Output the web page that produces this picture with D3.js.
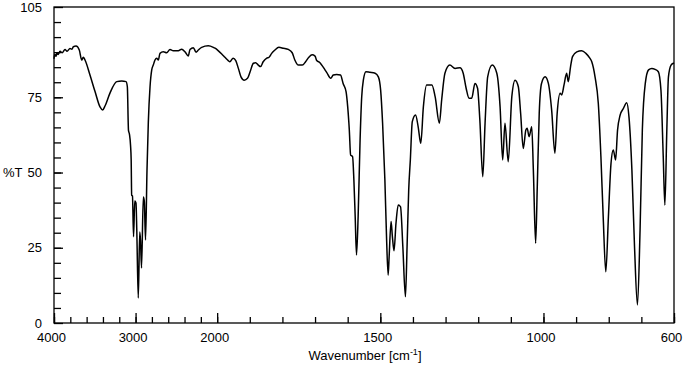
<!DOCTYPE html>
<html>
<head>
<meta charset="utf-8">
<script src="https://cdn.jsdelivr.net/npm/d3@7"></script>
<style>
  body { margin: 0; background: #fff; }
  svg { display: block; font-family: "Liberation Sans", Arial, sans-serif; }
</style>
</head>
<body>
<svg id="chart" width="683" height="376"></svg>
<script>
'use strict';

// spectrum: wavenumber (cm-1) and %T
const wavenumbers = [
  4000, 3990, 3975, 3963, 3950, 3926, 3900, 3865, 3840, 3804, 3780, 3763, 3730, 3690, 3660, 3641,
  3620, 3559, 3497, 3436, 3403, 3375,
  3314, 3231, 3170, 3117, 3101, 3087, 3075, 3062, 3054, 3048, 3038, 3025, 3010, 2995, 2985, 2967,
  2949, 2940, 2927, 2905, 2893, 2878, 2860, 2844, 2823, 2802, 2783, 2762, 2741, 2721, 2701, 2660,
  2619, 2578, 2538, 2476, 2435, 2394, 2354, 2333, 2292, 2259, 2231, 2190, 2109, 2047, 2026, 1997,
  1986, 1976, 1966, 1961, 1951, 1943, 1935, 1927, 1917, 1907, 1899, 1889, 1882, 1874, 1867, 1859,
  1848, 1841, 1833, 1823, 1811, 1797, 1782, 1770, 1762, 1751, 1739, 1729, 1719, 1709, 1700, 1695,
  1685, 1675, 1664, 1652, 1644, 1634, 1622, 1614, 1605, 1600, 1595, 1591, 1585, 1581, 1577, 1573,
  1568, 1562, 1557, 1552, 1544, 1532, 1516, 1506, 1499, 1493, 1486, 1481, 1476, 1473, 1467, 1463,
  1458, 1452, 1445, 1438, 1431, 1423, 1418, 1413, 1408, 1402, 1392, 1384, 1376, 1368, 1358, 1342,
  1332, 1319, 1312, 1302, 1287, 1271, 1256, 1246, 1237, 1228, 1220, 1210, 1202, 1195, 1186, 1179,
  1171, 1157, 1143, 1133, 1125, 1118, 1108, 1097, 1087, 1077, 1070, 1062, 1054, 1050, 1044, 1036,
  1031, 1024, 1019, 1013, 1006, 995, 985, 975, 965, 958, 949, 944, 937, 929, 924, 917,
  911, 898, 883, 870, 858, 852, 842, 832, 824, 817, 809, 801, 793, 786, 779, 773,
  765, 755, 745, 738, 729, 721, 712, 704, 697, 688, 678, 668, 658, 648, 640, 633,
  628, 622, 617, 609, 602, 600
];
const transmittance = [
  87.8, 89.3, 88.6, 89.9, 89.2, 90.3, 89.8, 90.9, 90.3, 91.2, 91.0, 91.8, 92.0, 90.7, 87.4, 88.3,
  87.4, 82.4, 76.9, 71.8, 70.8, 72.1,
  76.4, 80.2, 80.4, 80.2, 78.5, 64.0, 62.7, 59.1, 54.2, 42.5, 42.2, 28.7, 40.5, 39.9, 30.6, 8.3,
  30.2, 27.6, 18.3, 41.9, 40.5, 27.6, 50.8, 66.5, 78.4, 84.1, 85.7, 87.4, 88.0, 87.4, 89.6, 90.1,
  89.8, 90.9, 90.5, 90.5, 91.0, 90.1, 88.7, 90.9, 91.5, 90.0, 90.7, 91.6, 92.1, 91.6, 91.3, 90.5,
  89.4, 88.3, 87.2, 86.8, 88.0, 87.2, 84.6, 81.8, 80.7, 81.3, 83.5, 86.3, 86.5, 85.7, 85.2, 86.8,
  88.0, 88.3, 89.6, 90.7, 91.6, 91.3, 90.9, 89.8, 87.4, 85.7, 85.7, 86.8, 88.3, 89.1, 88.7, 87.2,
  86.5, 85.0, 83.2, 81.3, 82.4, 82.6, 82.4, 79.6, 76.9, 71.9, 64.1, 55.8, 55.3, 47.5, 35.3, 22.6,
  35.3, 60.8, 75.2, 80.7, 83.5, 83.3, 83.0, 81.8, 77.4, 66.4, 47.5, 28.7, 15.9, 22.0, 33.7, 28.7,
  24.0, 33.1, 39.2, 38.6, 25.4, 8.7, 25.4, 44.2, 54.2, 66.9, 69.1, 65.2, 59.7, 71.9, 79.1, 79.1,
  75.2, 66.4, 74.1, 83.0, 85.7, 84.6, 84.8, 83.0, 78.0, 74.7, 74.7, 79.6, 78.0, 67.5, 48.6, 66.4,
  81.8, 85.7, 83.0, 71.9, 54.2, 66.4, 53.6, 75.2, 80.7, 78.5, 69.7, 58.0, 64.1, 64.7, 61.9, 65.2,
  50.8, 26.5, 45.3, 69.7, 79.6, 81.8, 79.6, 70.8, 56.4, 69.7, 76.3, 75.8, 79.1, 83.0, 80.2, 85.2,
  88.5, 90.1, 90.5, 89.6, 88.0, 86.8, 81.8, 73.0, 55.3, 35.3, 17.0, 35.3, 53.1, 57.5, 54.2, 64.1,
  69.1, 71.3, 73.2, 68.5, 50.8, 25.4, 6.0, 30.9, 64.1, 79.6, 84.1, 84.6, 84.3, 83.5, 77.4, 55.3,
  39.2, 64.1, 81.8, 85.7, 86.3, 86.4
];

const xTickLabels = [4000, 3000, 2000, 1500, 1000, 600];
const yTickLabels = [0, 25, 50, 75, 105];

const plotLeft = 54;
const plotRight = 674;
const plotTop = 7;
const plotBottom = 323;

// wavenumbers below 2000 are drawn 4x wider than above
const breakX = plotLeft + (plotRight - plotLeft) * 2000 / (2000 + 1400 * 4);
const x = d3.scaleLinear().domain([4000, 2000, 600]).range([plotLeft, breakX, plotRight]);
const y = d3.scaleLinear().domain([0, 105]).range([plotBottom, plotTop]);

const svg = d3.select('#chart');

const xMinor = d3.range(4000, 2000, -200).concat(d3.range(2000, 599, -100));
const yMinor = d3.range(5, 101, 5);

// minor ticks
svg.append('g')
  .attr('transform', 'translate(0,' + plotBottom + ')')
  .call(d3.axisBottom(x).tickValues(xMinor).tickSize(-6).tickFormat(''))
  .call(g => g.select('.domain').remove());

svg.append('g')
  .attr('transform', 'translate(' + plotLeft + ',0)')
  .call(d3.axisLeft(y).tickValues(yMinor).tickSize(-7).tickFormat(''))
  .call(g => g.select('.domain').remove());

// labelled ticks
const xAxis = svg.append('g')
  .attr('transform', 'translate(0,' + plotBottom + ')')
  .call(d3.axisBottom(x).tickValues(xTickLabels).tickSize(-10).tickPadding(10)
    .tickFormat(d3.format('d')));
xAxis.select('.domain').remove();
xAxis.selectAll('text').attr('dx', -3);

const yAxis = svg.append('g')
  .attr('transform', 'translate(' + plotLeft + ',0)')
  .call(d3.axisLeft(y).tickValues(yTickLabels).tickSize(-9).tickPadding(12)
    .tickFormat(d3.format('d')));
yAxis.select('.domain').remove();

svg.selectAll('.tick line').attr('stroke', '#000').attr('stroke-width', 1.3);
svg.selectAll('.tick text')
  .attr('fill', '#000')
  .style('font-size', '13px')
  .style('font-family', '"Liberation Sans", Arial, sans-serif');

// frame
svg.append('rect')
  .attr('x', plotLeft)
  .attr('y', plotTop)
  .attr('width', plotRight - plotLeft)
  .attr('height', plotBottom - plotTop)
  .attr('fill', 'none')
  .attr('stroke', '#000')
  .attr('stroke-width', 1.3);

// spectrum
const points = wavenumbers.map((w, i) => [w, transmittance[i]]);
const line = d3.line()
  .x(d => x(d[0]))
  .y(d => y(d[1]))
  .curve(d3.curveMonotoneX);

svg.append('path')
  .datum(points)
  .attr('d', line)
  .attr('fill', 'none')
  .attr('stroke', '#000')
  .attr('stroke-width', 1.5)
  .attr('stroke-linejoin', 'round');

// axis titles
const xTitle = svg.append('text')
  .attr('x', 365)
  .attr('y', 360)
  .attr('text-anchor', 'middle')
  .style('font-size', '13px');
xTitle.append('tspan').text('Wavenumber [cm');
xTitle.append('tspan').attr('dy', -5).style('font-size', '9px').text('-1');
xTitle.append('tspan').attr('dy', 5).text(']');

svg.append('text')
  .attr('x', 3)
  .attr('y', y(50))
  .attr('dy', '0.35em')
  .style('font-size', '13px')
  .text('%T');
</script>
</body>
</html>
